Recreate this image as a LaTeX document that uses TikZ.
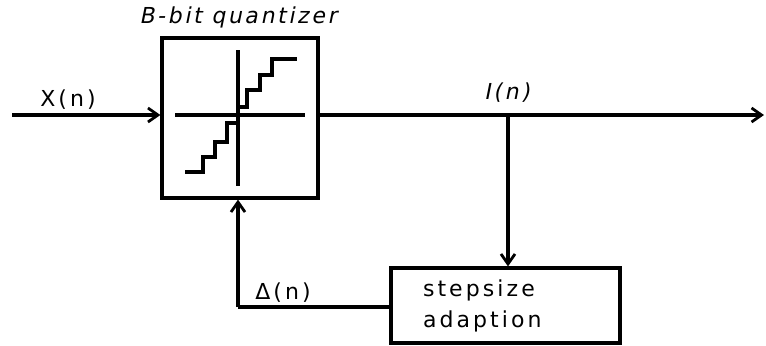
\documentclass[tikz,border=0pt]{standalone}
\usepackage{fontspec}
\newfontfamily\handfont[LetterSpace=14]{DejaVu Sans}
\newfontfamily\handslant[LetterSpace=12,FakeSlant=0.2]{DejaVu Sans}
\usetikzlibrary{arrows.meta}
\begin{document}
\begin{tikzpicture}[x=0.5pt,y=-0.5pt,
  line width=1.6pt,
  lbl/.style={font=\handfont\fontsize{11}{13}\selectfont, inner sep=0pt},
  blk/.style={draw, line width=1.6pt, inner sep=0pt},
  arr/.style={-{Straight Barb[length=5pt,width=7pt,line width=1.4pt]}},
  stair/.style={line width=1.6pt, line join=miter}]
\useasboundingbox (0,0) rectangle (766,345);
% quantizer block
\node[blk, minimum width=78pt, minimum height=80pt] (q) at (240,118) {};
\node[lbl, font=\handslant\fontsize{11}{13}\selectfont] (qt) at (238,17) {B-bit quantizer};
% axes and staircase inside the quantizer
\draw (175,115) -- (305,115);
\draw (238,50) -- (238,186);
\draw[stair] (238,107) -- (247,107) -- (247,90) -- (260,90) -- (260,75) -- (272,75) -- (272,59) -- (297,59);
\draw[stair] (238,123) -- (227,123) -- (227,142) -- (215,142) -- (215,157) -- (203,157) -- (203,172) -- (185,172);
% stepsize adaption block
\node[blk, minimum height=37.5pt, text width=82.5pt, inner xsep=16pt, align=left,
      font=\handfont\fontsize{11}{15.5}\selectfont] (s) at (505.5,305.5) {stepsize\\adaption};
% connectors
\coordinate (xin) at (12,115);
\coordinate (br) at (508,115);
\coordinate (yend) at (764,115);
\coordinate (fb) at (391,307);
\draw[arr] (xin) -- (q.west |- xin);
\draw[arr] (q.east |- br) -- (yend);
\draw[arr] (br) -- (s.north -| br);
\draw (s.west |- fb) -- (238,307);
\draw[arr] (238,307) -- (q.south -| 238,0);
% labels
\node[lbl] (xl) at (68,100) {X(n)};
\node[lbl, font=\handslant\fontsize{11}{13}\selectfont] (il) at (507,93) {I(n)};
\node[lbl] (dl) at (283,293) {Δ(n)};
\end{tikzpicture}
\end{document}
